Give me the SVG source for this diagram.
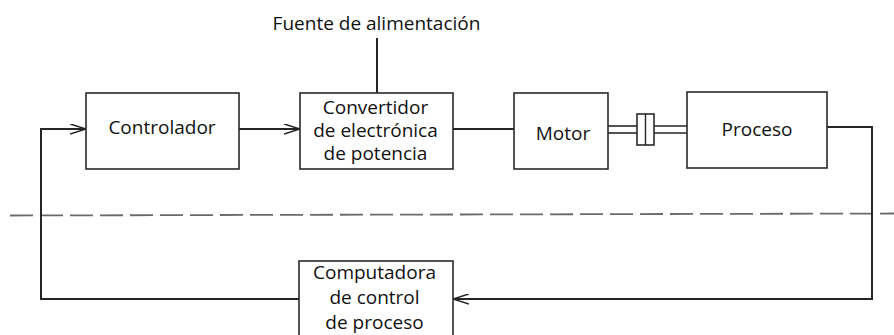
<svg xmlns="http://www.w3.org/2000/svg" width="894" height="335" viewBox="0 0 894 335">
<defs>
<style>
.box{fill:#fff;stroke:#2a2a2a;stroke-width:1.6}
.ln{fill:none;stroke:#262626;stroke-width:2}
.dash{fill:none;stroke:#6a6a6a;stroke-width:1.8;stroke-dasharray:23 7}
text{font-family:"Open Sans","Noto Sans","DejaVu Sans",sans-serif;font-size:19px;fill:#111;text-anchor:middle}
</style>
<marker id="arr" viewBox="0 0 16 11" refX="16" refY="5.5" markerWidth="16" markerHeight="11" markerUnits="userSpaceOnUse" orient="auto">
<path d="M0,0.5 L16,5.5 L0,10.5" fill="none" stroke="#262626" stroke-width="1.6"/>
</marker>
</defs>
<rect width="894" height="335" fill="#fff"/>
<line class="dash" x1="10" y1="215.5" x2="894" y2="213.5"/>
<g id="connectors">
<line class="ln" x1="377" y1="38" x2="377" y2="93"/>
<line class="ln" x1="239" y1="129" x2="300" y2="129" marker-end="url(#arr)"/>
<line class="ln" x1="453" y1="129" x2="514" y2="129"/>
<polyline class="ln" points="827,127 872,127 872,299 453,299" marker-end="url(#arr)"/>
<polyline class="ln" points="299,299 41,299 41,129 86,129" marker-end="url(#arr)"/>
<line class="ln" style="stroke-width:1.6" x1="608" y1="126" x2="637" y2="126"/>
<line class="ln" style="stroke-width:1.6" x1="608" y1="133" x2="637" y2="133"/>
<line class="ln" style="stroke-width:1.6" x1="654" y1="126" x2="687" y2="126"/>
<line class="ln" style="stroke-width:1.6" x1="654" y1="133" x2="687" y2="133"/>
</g>
<g id="coupling">
<rect class="box" x="637" y="114" width="17" height="31"/>
<line class="ln" style="stroke-width:1.4" x1="645.5" y1="114" x2="645.5" y2="145"/>
</g>
<g id="fuente">
<text x="376.5" y="30">Fuente de alimentación</text>
</g>
<g id="controlador">
<rect class="box" x="86" y="93" width="153" height="76"/>
<text x="162" y="134">Controlador</text>
</g>
<g id="convertidor">
<rect class="box" x="300" y="93" width="153" height="76"/>
<text x="375.5" y="114">Convertidor</text>
<text x="375.5" y="136.5">de electrónica</text>
<text x="375.5" y="159.5">de potencia</text>
</g>
<g id="motor">
<rect class="box" x="514" y="93" width="94" height="76"/>
<text x="563" y="140">Motor</text>
</g>
<g id="proceso">
<rect class="box" x="687" y="92" width="140" height="76"/>
<text x="757" y="136">Proceso</text>
</g>
<g id="computadora">
<rect class="box" x="299" y="261" width="154" height="90"/>
<text x="374.5" y="278.5">Computadora</text>
<text x="374.5" y="304">de control</text>
<text x="374.5" y="328.5">de proceso</text>
</g>
</svg>
